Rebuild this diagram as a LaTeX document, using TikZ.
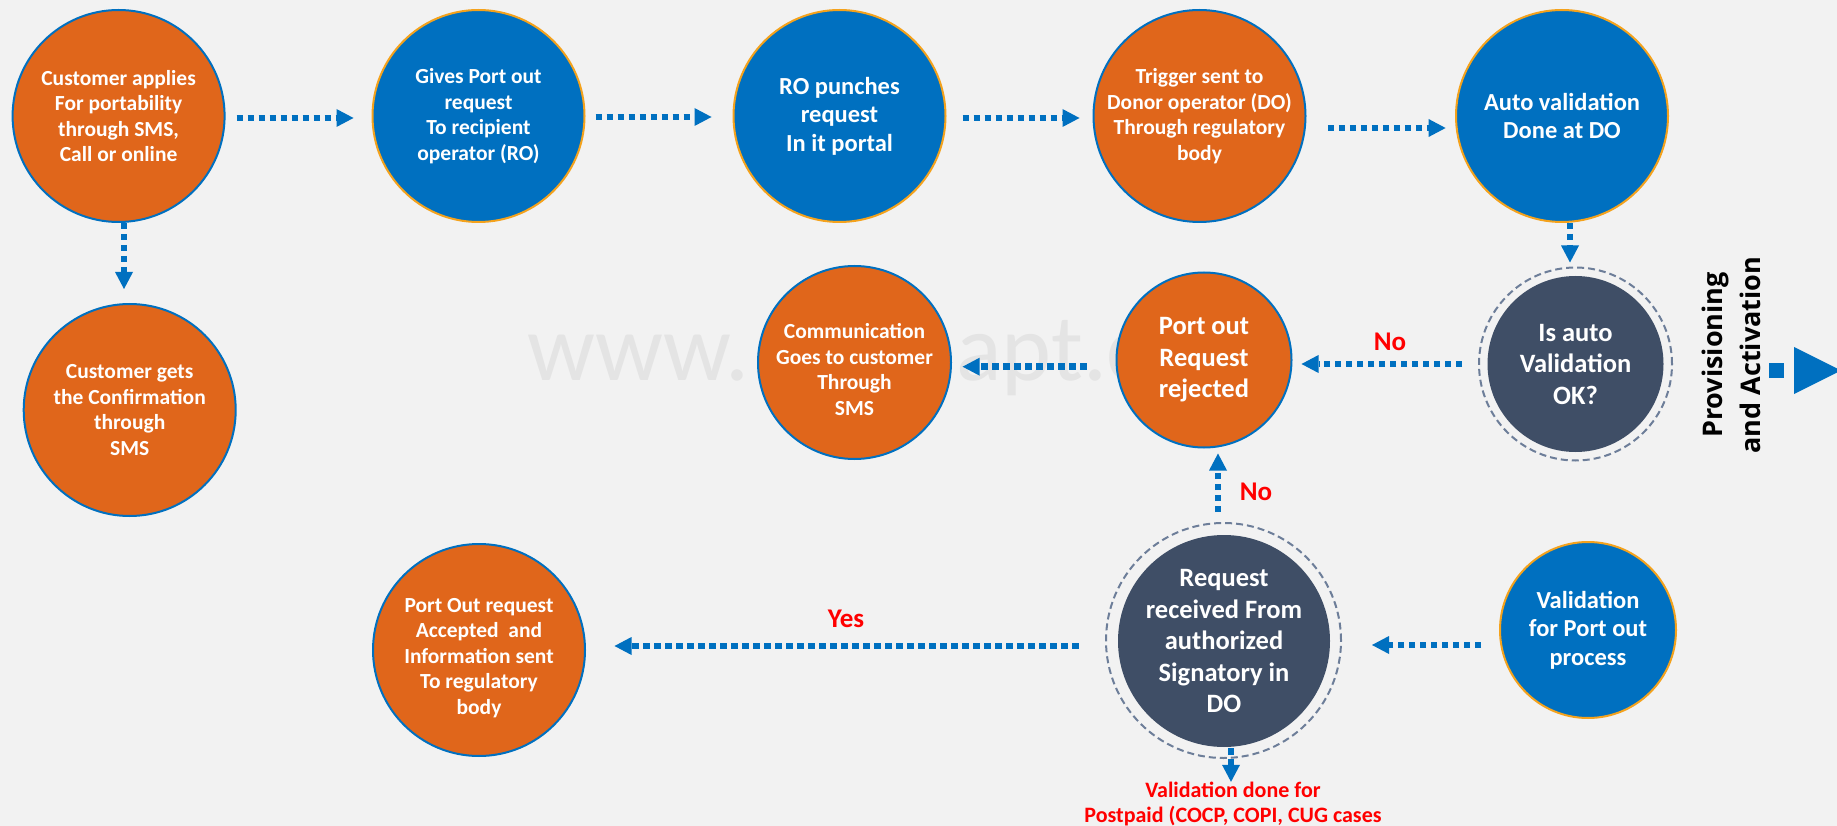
\documentclass[tikz,border=0pt]{standalone}
\usepackage{fontspec}
\setmainfont{Carlito}
\newfontfamily\provfont{Open Sans}
\usetikzlibrary{arrows.meta}
\definecolor{bg}{HTML}{F2F2F2}
\definecolor{myorange}{HTML}{E0661B}
\definecolor{myblue}{HTML}{0070C0}
\definecolor{mygold}{HTML}{F4A21C}
\definecolor{mydark}{HTML}{3F4E66}
\definecolor{myring}{HTML}{6D7E99}
\definecolor{wmark}{HTML}{E4E4E4}
\definecolor{myred}{HTML}{FF0000}
\begin{document}
\begin{tikzpicture}[x=1pt,y=-1pt,
  circ/.style={circle, inner sep=0pt, align=center, text=white, line width=2pt,
    font=\bfseries\fontsize{21.5}{25.5}\selectfont},
  bigtxt/.style={font=\bfseries\fontsize{24.5}{28.5}\selectfont},
  hugetxt/.style={font=\bfseries\fontsize{26.5}{31.5}\selectfont},
  orng/.style={circ, fill=myorange, draw=myblue},
  blu/.style={circ, fill=myblue, draw=mygold},
  dark/.style={circ, fill=mydark},
  ctext/.style={align=center, text=white, inner sep=0pt, font=\bfseries\fontsize{21.5}{25.5}\selectfont},
  ringc/.style={circle, draw=myring, line width=2pt, dash pattern=on 7pt off 4pt, inner sep=0pt},
  flow/.style={draw=myblue, line width=6.5pt, dash pattern=on 6.5pt off 4.5pt, line cap=butt,
    -{Triangle[length=17pt,width=18pt,line width=0pt]}},
  lbl/.style={text=myred, inner sep=0pt, font=\bfseries\fontsize{27}{30}\selectfont},
  wm/.style={text=wmark, inner sep=0pt, font=\fontsize{95}{100}\selectfont, anchor=base west}
]
\fill[bg] (0,0) rectangle (1837,826);
\useasboundingbox (0,0) rectangle (1837,826);

% watermark
\node[wm] (wm1) at (527,380) {www.};
\node[wm] (wm2) at (956,380) {apt.c};

% top row
\node[orng, minimum size=212] (c1) at (118.6,116) {Customer applies\\For portability\\through SMS,\\Call or online};
\node[blu, minimum size=212] (c2) at (478.5,116) {Gives Port out\\request\\To recipient\\operator (RO)};
\node[blu, bigtxt, minimum size=212] (c3) at (839.5,116) {RO punches\\request\\In it portal};
\node[orng, minimum size=212] (c4) at (1199.5,116) {Trigger sent to\\Donor operator (DO)\\Through regulatory\\body};
\node[blu, bigtxt, minimum size=212] (c5) at (1562,116) {Auto validation\\Done at DO};

% middle row
\node[ringc, minimum size=193] (r6) at (1575.5,364) {};
\node[dark, hugetxt, minimum size=176] (c6) at (1575.5,364) {Is auto\\Validation\\OK?};
\node[orng, hugetxt, minimum size=175] (c7) at (1204,360) {Port out\\Request\\rejected};
\node[orng, minimum size=193] (c9) at (854.5,362.5) {};
\node[ctext] (t9) at ([shift={(0,7)}]c9.center) {Communication\\Goes to customer\\Through\\SMS};
\node[orng, minimum size=212] (c8) at (129.7,410) {Customer gets\\the Confirmation\\through\\SMS};

% bottom row
\node[orng, minimum size=212] (c11) at (479,650) {};
\node[ctext] (t11) at ([shift={(0,8)}]c11.center) {Port Out request\\Accepted\ \ and\\Information sent\\To regulatory\\body};
\node[ringc, minimum size=235] (r10) at (1223.5,640.5) {};
\node[dark, hugetxt, minimum size=212] (c10) at (1224,641) {Request\\received From\\authorized\\Signatory in\\DO};
\node[blu, bigtxt, minimum size=176] (c12) at (1588,630) {Validation\\for Port out\\process};

\node[text=myred, align=center, inner sep=0pt, font=\bfseries\fontsize{22}{25}\selectfont] (note) at (1233,804)
  {Validation done for\\Postpaid (COCP, COPI, CUG cases};

% provisioning
\node[rotate=90, align=center, inner sep=0pt, text=black, font=\provfont\bfseries\fontsize{27}{38}\selectfont] (prov) at (1731,355) {Provisioning\\and Activation};
\coordinate (pa1) at (1769,370.5);
\coordinate (pa2) at (1841,370.5);
\draw[myblue, line width=15pt, dash pattern=on 15pt off 10pt, -{Triangle[length=47pt,width=47pt,line width=0pt]}] (pa1) -- (pa2);

% connectors
\draw[flow] ([shift={(11,2)}]c1.east) -- ([shift={(-18,2)}]c2.west);
\draw[flow] ([shift={(10,1)}]c2.east) -- ([shift={(-21,1)}]c3.west);
\draw[flow] ([shift={(16,2)}]c3.east) -- ([shift={(-13,2)}]c4.west);
\draw[flow] ([shift={(21.4,12)}]c4.east) -- ([shift={(-9.4,12)}]c5.west);
\draw[flow] ([shift={(8,0)}]c5.south) -- ([shift={(-5.5,-4)}]r6.north);
\draw[flow] ([shift={(5.4,0)}]c1.south) -- ([shift={(-5.7,-14)}]c8.north);
\draw[flow] ([shift={(-16,0)}]r6.west) -- ([shift={(9,4)}]c7.east);
\draw[flow] ([shift={(-29,6.7)}]c7.west) -- ([shift={(10.6,4.2)}]c9.east);
\draw[flow] ([shift={(-5.5,-10)}]r10.north) -- ([shift={(14,5)}]c7.south);
\draw[flow] ([shift={(-26.4,5.5)}]r10.west) -- ([shift={(28.5,-4)}]c11.east);
\draw[flow] ([shift={(-18,15)}]c12.west) -- ([shift={(30,4.5)}]r10.east);
\draw[flow] ([shift={(7,0)}]c10.south) -- ([shift={(-2,0)}]note.north);

% labels
\node[lbl] (no1) at (1390,342) {No};
\node[lbl] (no2) at (1256,492) {No};
\node[lbl] (yes) at (846,619) {Yes};
\end{tikzpicture}
\end{document}
